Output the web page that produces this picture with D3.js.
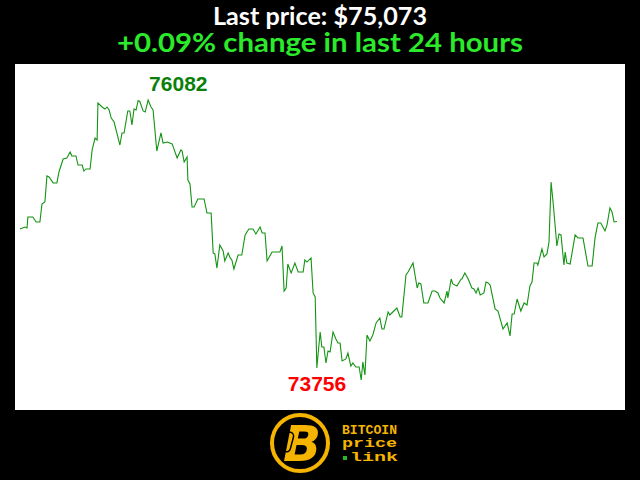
<!DOCTYPE html>
<html><head><meta charset="utf-8">
<script src="https://cdn.jsdelivr.net/npm/d3@7"></script>
<style>html,body{margin:0;padding:0;background:#000;}svg{display:block;}</style>
</head><body>
<script>
// minutes since start of the 24h window
const minutes = [0,12,17,19,31,39,48,53,60,65,70,80,89,94,104,113,121,125,135,140,150,154,159,169,174,181,186,188,198,205,210,215,220,227,241,246,251,260,265,270,275,280,285,289,297,302,309,316,321,330,340,345,355,367,379,388,391,396,403,405,410,415,420,429,444,451,461,466,470,475,482,490,494,502,507,511,516,526,535,543,552,562,569,579,584,591,596,608,627,632,637,642,646,654,663,671,683,687,692,702,707,712,716,724,728,733,738,743,748,755,762,767,772,777,786,791,798,803,810,818,823,827,832,837,844,851,859,868,873,878,888,892,909,917,921,931,936,948,958,962,967,974,984,994,1001,1008,1013,1023,1030,1032,1040,1044,1054,1064,1066,1073,1081,1090,1095,1100,1105,1110,1119,1124,1129,1134,1146,1153,1165,1175,1182,1187,1192,1199,1208,1216,1223,1230,1235,1240,1247,1249,1259,1264,1271,1276,1281,1286,1290,1295,1300,1305,1312,1315,1319,1327,1339,1346,1358,1370,1380,1387,1394,1401,1411,1416,1423,1428,1433,1440];
// BTC price (USD)
const prices = [75010,75027,75019,75110,75110,75069,75069,75218,75235,75451,75442,75393,75393,75484,75592,75600,75650,75617,75617,75542,75542,75492,75509,75509,75667,75766,75750,76057,76024,76007,76024,75999,75932,75899,75708,75808,75808,75991,75991,75874,76007,75999,76078,76070,75991,75982,76082,76024,75999,75658,75808,75725,75733,75717,75600,75667,75658,75567,75609,75417,75384,75193,75193,75260,75260,75143,75143,74811,74803,74686,74877,74828,74745,74811,74770,74753,74678,74794,74794,74961,75010,75010,74969,75027,74977,74977,74745,74819,74819,74869,74495,74520,74720,74645,74728,74653,74653,74753,74736,74770,74479,74446,73856,74155,74030,74030,73897,73997,73989,74155,74097,74063,74063,73914,73931,73980,73872,73897,73864,73864,73756,73906,73798,74130,74080,74130,74230,74271,74180,74180,74321,74296,74354,74279,74279,74628,74653,74728,74520,74562,74554,74396,74396,74495,74495,74479,74437,74396,74495,74437,74595,74554,74537,74595,74595,74645,74595,74520,74512,74479,74520,74462,74479,74570,74562,74545,74346,74329,74180,74230,74122,74304,74304,74429,74329,74396,74379,74537,74570,74728,74728,74711,74844,74778,74803,74902,75401,75226,75069,74869,74969,74961,74711,74819,74728,74720,74961,74936,74936,74703,74703,74936,75060,75060,74994,75044,75185,75152,75069,75073];
const titleText = "Last price: $75,073";
const changeText = "+0.09% change in last 24 hours";
const logoLines = ["BITCOIN", "price", "link"];

const W = 640, H = 480;
const svg = d3.select("body").append("svg").attr("width", W).attr("height", H);
svg.append("rect").attr("width", W).attr("height", H).attr("fill", "#000");

// titles
svg.append("text").attr("x", 320).attr("y", 25).attr("text-anchor", "middle")
  .attr("font-family", "Lato").attr("font-weight", "bold").attr("font-size", 24)
  .attr("fill", "#fff").attr("textLength", 214).attr("lengthAdjust", "spacingAndGlyphs").text(titleText);
svg.append("text").attr("x", 320).attr("y", 52).attr("text-anchor", "middle")
  .attr("font-family", "Lato").attr("font-weight", "bold").attr("font-size", 27)
  .attr("fill", "#2bea2b").attr("textLength", 406).attr("lengthAdjust", "spacingAndGlyphs").text(changeText);

// plot area
svg.append("rect").attr("x", 15).attr("y", 64).attr("width", 610).attr("height", 346).attr("fill", "#fff");

const data = minutes.map((m, i) => ({m, p: prices[i]}));
const x = d3.scaleLinear().domain([0, 1440]).range([20, 617]);
const minP = d3.min(prices), maxP = d3.max(prices);
const y = d3.scaleLinear().domain([minP, maxP]).range([380, 100]);

svg.append("path").datum(data)
  .attr("d", d3.line().x(d => x(d.m)).y(d => y(d.p)))
  .attr("fill", "none").attr("stroke", "#139413").attr("stroke-width", 1.1);

const iMax = prices.indexOf(maxP), iMin = prices.indexOf(minP);
svg.append("text").attr("x", x(minutes[iMax]) + 1).attr("y", y(maxP) - 9)
  .attr("font-family", "Liberation Sans").attr("font-weight", "bold").attr("font-size", 21)
  .attr("fill", "#0a800a").text(String(maxP));
svg.append("text").attr("x", x(minutes[iMin]) - 15).attr("y", y(minP) + 11).attr("text-anchor", "end")
  .attr("font-family", "Liberation Sans").attr("font-weight", "bold").attr("font-size", 21)
  .attr("fill", "#ff0000").text(String(minP));

// logo
const gold = "#f4b400";
const lg = svg.append("g");
lg.append("circle").attr("cx", 300).attr("cy", 443).attr("r", 28).attr("fill", "#000")
  .attr("stroke", gold).attr("stroke-width", 4);
lg.append("text").attr("x", 302).attr("y", 461).attr("text-anchor", "middle")
  .attr("font-family", "DejaVu Sans").attr("font-weight", "bold").attr("font-style", "italic")
  .attr("font-size", 50).attr("fill", gold).text("B");
lg.append("rect").attr("x", 284).attr("y", 432).attr("width", 8).attr("height", 20).attr("rx", 4)
  .attr("fill", "none").attr("stroke", "#000").attr("stroke-width", 1.5)
  .attr("transform", "rotate(15,288,442)");
lg.append("text").attr("x", 342).attr("y", 434).attr("font-family", "Liberation Mono").attr("font-weight", "bold")
  .attr("font-size", 12).attr("fill", gold).attr("textLength", 55).attr("lengthAdjust", "spacingAndGlyphs").text(logoLines[0]);
lg.append("text").attr("x", 342).attr("y", 447).attr("font-family", "Liberation Mono").attr("font-weight", "bold")
  .attr("font-size", 12).attr("fill", gold).attr("textLength", 55).attr("lengthAdjust", "spacingAndGlyphs").text(logoLines[1]);
lg.append("rect").attr("x", 343).attr("y", 456).attr("width", 4).attr("height", 4).attr("fill", "#2ab52a");
lg.append("text").attr("x", 350).attr("y", 461).attr("font-family", "Liberation Mono").attr("font-weight", "bold")
  .attr("font-size", 12).attr("fill", gold).attr("textLength", 48).attr("lengthAdjust", "spacingAndGlyphs").text(logoLines[2]);
</script>
</body></html>
